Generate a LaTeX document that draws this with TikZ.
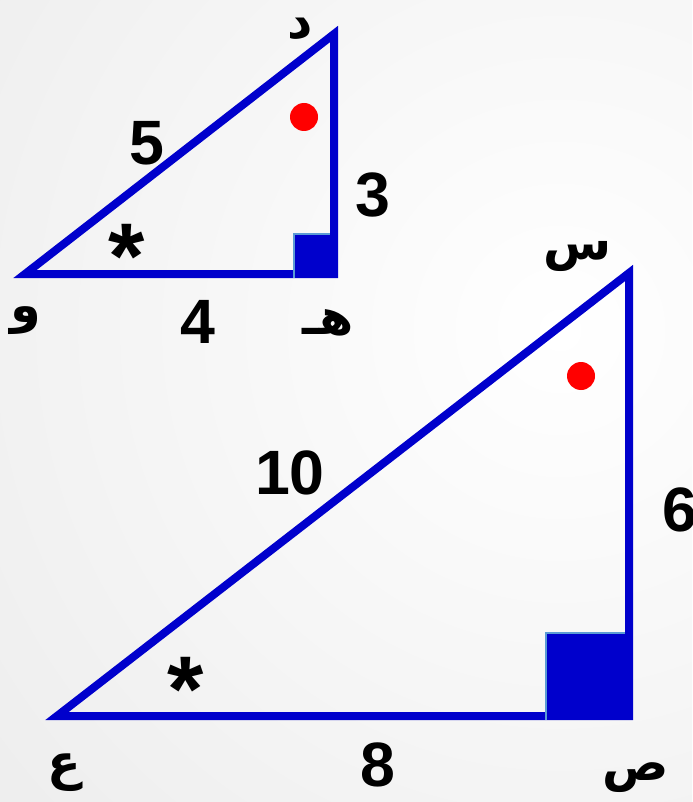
\documentclass[tikz,border=0pt]{standalone}
\usepackage{fontspec}
\setmainfont{Liberation Sans}
\newfontfamily\arabicfont[Script=Arabic]{DejaVu Sans}
\TeXXeTstate=1
\definecolor{triblue}{RGB}{0,0,204}
\definecolor{edgeblue}{RGB}{91,155,213}
\definecolor{dotred}{RGB}{255,0,0}
\definecolor{bgouter}{RGB}{224,224,224}
\tikzset{
  tri/.style={draw=triblue, line width=6pt, line join=miter},
  sidelabel/.style={font=\fontsize{47}{47}\selectfont\bfseries, inner sep=0pt},
  vertexlabel/.style={font=\fontsize{37}{37}\selectfont\arabicfont\bfseries, inner sep=0pt},
  starlabel/.style={font=\fontsize{70}{70}\selectfont\bfseries, inner sep=0pt, anchor=north},
  dot/.style={circle, fill=dotred, inner sep=0pt, minimum size=21pt},
  rightmark/.style={fill=triblue},
  markedge/.style={draw=edgeblue, line width=1.2pt}
}

\begin{document}
\begin{tikzpicture}[x=0.75pt, y=-0.75pt]
  \useasboundingbox (0,0) rectangle (692,802);
  \begin{scope}
    \clip (0,0) rectangle (692,802);
    \shade[inner color=white, outer color=bgouter] (-740,-970) rectangle (1860,1630);
  \end{scope}

  % small triangle
  \coordinate (W) at (25,274);
  \coordinate (H) at (334,274);
  \coordinate (D) at (334,34);
  \draw[tri] (W) -- (H) -- (D) -- cycle;
  \fill[rightmark] (294,234) rectangle (338,278);
  \draw[markedge] (294,278) -- (294,234) -- (330,234);
  \node[dot] (dotD) at (304,117) {};

  \node[sidelabel] (sideWD) at (147,143) {5};
  \node[sidelabel] (sideHD) at (373,195) {3};
  \node[sidelabel] (sideWH) at (198,322) {4};
  \node[starlabel] (starW) at (127,224) {*};

  \node[vertexlabel] (labD) at (300,29) {\beginR د\endR};
  \node[vertexlabel] (labW) at (26,321) {\beginR و\endR};
  \node[vertexlabel] (labH) at (328,323) {\beginR هـ\endR};

  % large triangle
  \coordinate (E) at (57,716);
  \coordinate (S) at (629,716);
  \coordinate (T) at (629,273);
  \draw[tri] (E) -- (S) -- (T) -- cycle;
  \fill[rightmark] (546,633) rectangle (633,720);
  \draw[markedge] (546,720) -- (546,633) -- (625,633);
  \node[dot] (dotT) at (581,376) {};

  \node[sidelabel] (sideET) at (290,473) {10};
  \node[sidelabel] (sideST) at (680,510) {6};
  \node[sidelabel] (sideES) at (378,765) {8};
  \node[starlabel] (starE) at (186,657) {*};

  \node[vertexlabel] (labT) at (578,256) {\beginR س\endR};
  \node[vertexlabel] (labE) at (64,772) {\beginR ع\endR};
  \node[vertexlabel] (labS) at (636,778) {\beginR ص\endR};
\end{tikzpicture}
\end{document}
